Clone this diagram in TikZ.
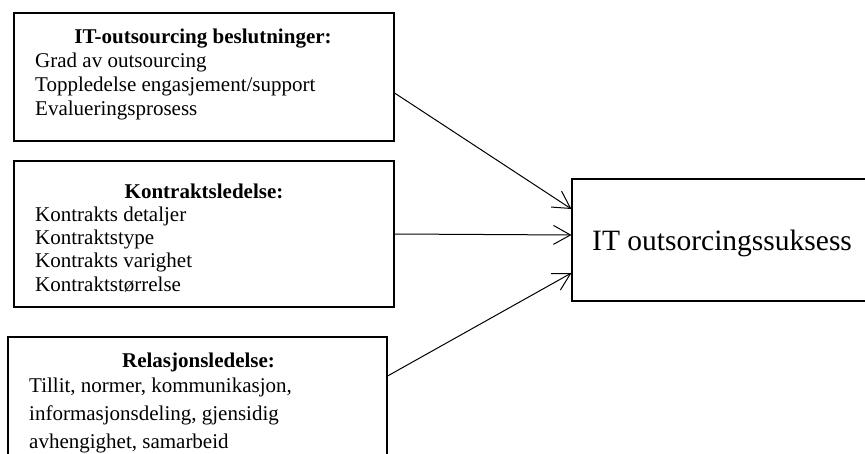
\documentclass[tikz,border=0pt]{standalone}
\usepackage{fontspec}
\setmainfont{Liberation Serif}
\usetikzlibrary{arrows.meta}
\begin{document}
\begin{tikzpicture}[x=1pt,y=-1pt,
  box/.style={draw=black, line width=1.1pt, rectangle, inner sep=0pt},
  txt/.style={inner sep=0pt, anchor=base west, font=\fontsize{21}{24}\selectfont},
  ttl/.style={inner sep=0pt, anchor=base, font=\fontsize{21}{24}\selectfont\bfseries},
  arr/.style={draw=black, line width=1pt, -{Straight Barb[length=17pt,width=19pt]}}]
\clip (0,0) rectangle (865,454);

% factor boxes
\node[box, minimum width=380pt, minimum height=128pt] (b1) at (204,77) {};
\node[box, minimum width=380pt, minimum height=146pt] (b2) at (204,234) {};
\node[box, minimum width=379pt, minimum height=133pt] (b3) at (197.5,403.5) {};
% outcome box
\node[box, minimum width=308pt, minimum height=122pt] (res) at (726,240) {};

% box 1 text
\node[ttl] (t1) at (203,44) {IT-outsourcing beslutninger:};
\node[txt] (l11) at (35,68) {Grad av outsourcing};
\node[txt] (l12) at (35,92) {Toppledelse engasjement/support};
\node[txt] (l13) at (35,116) {Evalueringsprosess};

% box 2 text
\node[ttl] (t2) at (204,199) {Kontraktsledelse:};
\node[txt] (l21) at (35,222) {Kontrakts detaljer};
\node[txt] (l22) at (35,245) {Kontraktstype};
\node[txt] (l23) at (35,268) {Kontrakts varighet};
\node[txt] (l24) at (35,292) {Kontraktstørrelse};

% box 3 text
\node[ttl] (t3) at (198.5,367) {Relasjonsledelse:};
\node[txt] (l31) at (29,392) {Tillit, normer, kommunikasjon,};
\node[txt] (l32) at (29,420) {informasjonsdeling, gjensidig};
\node[txt] (l33) at (29,448) {avhengighet, samarbeid};

% outcome text
\node[inner sep=0pt, anchor=base west, font=\fontsize{29.5}{32}\selectfont] (rt) at (592,251) {IT outsorcingssuksess};

% connectors
\draw[arr] ([yshift=-16pt]b1.east) -- ([yshift=31pt]res.west);
\draw[arr] (b2.east) -- ([yshift=5pt]res.west);
\draw[arr] ([yshift=27.5pt]b3.east) -- ([yshift=-33pt]res.west);
\end{tikzpicture}
\end{document}
